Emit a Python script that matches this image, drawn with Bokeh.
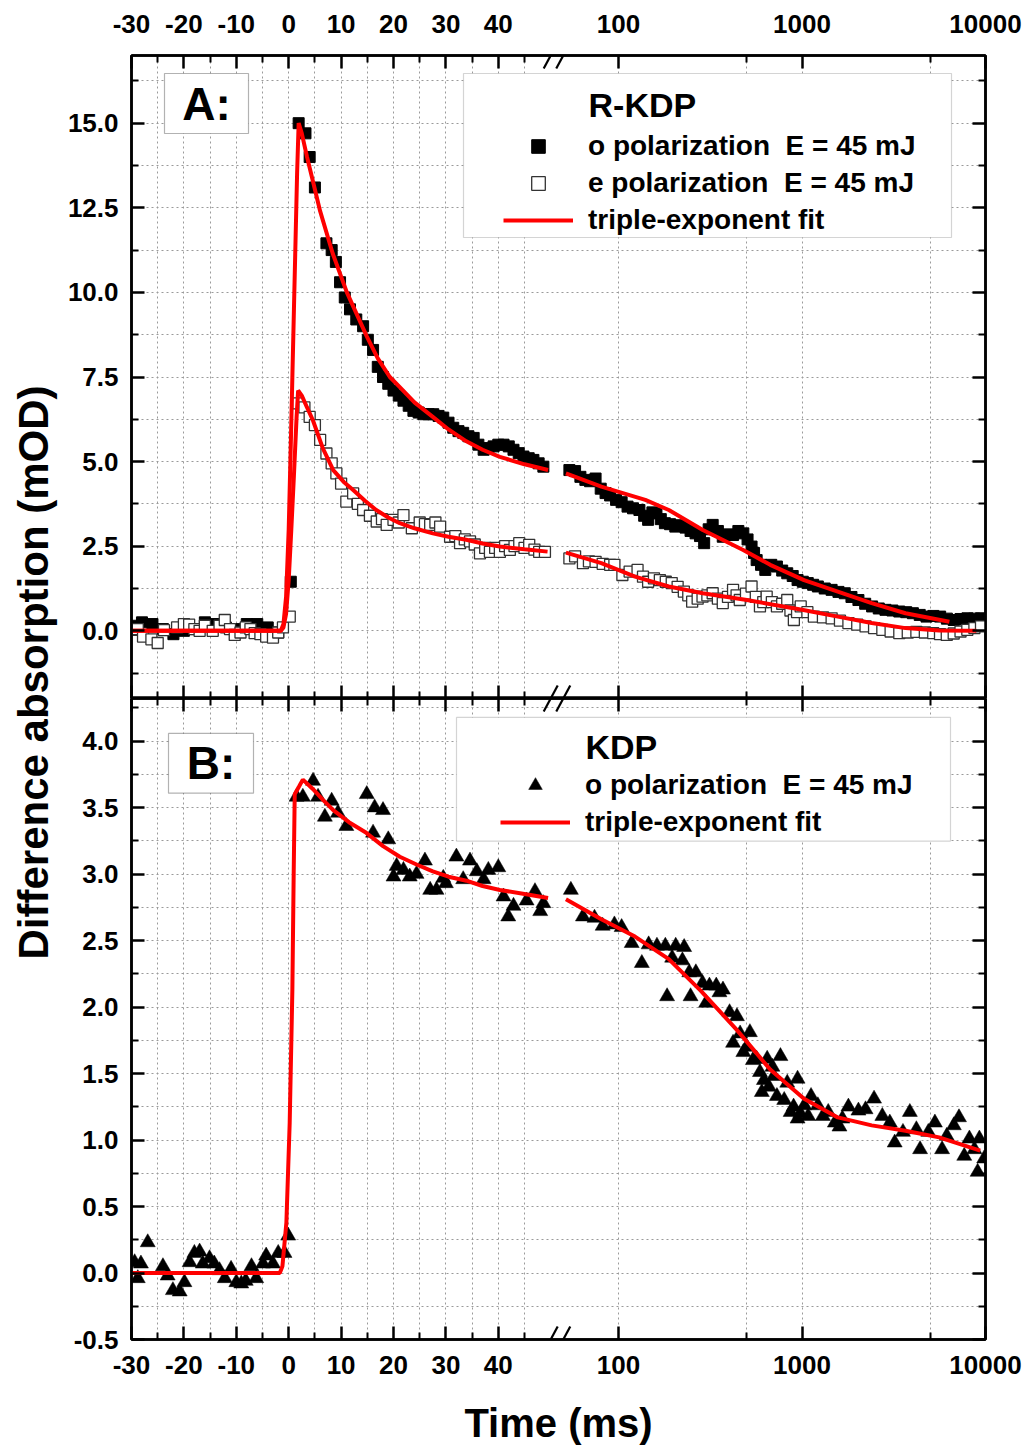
import math
from bokeh.plotting import figure
from bokeh.layouts import row, column
from bokeh.models import (Range1d, LogScale, LinearAxis, Grid, FixedTicker,
                          CustomJSTickFormatter, PrintfTickFormatter, Legend,
                          LegendItem, BoxAnnotation, Label, Arrow)
from bokeh.core.properties import value
from bokeh.embed import file_html
from bokeh.resources import INLINE

FONT = "Liberation Sans"

# ------------------------------------------------------------------ data
BREAK_MS = 50
x_lin_major = [-30, -20, -10, 0, 10, 20, 30, 40]
x_lin_minor = [-25, -15, -5, 5, 15, 25, 35, 45]
x_log_major = [100, 1000, 10000]
x_log_minor = [500, 5000]
yA_major = [0, 2.5, 5, 7.5, 10, 12.5, 15]
yA_minor = [-1.25, 1.25, 3.75, 6.25, 8.75, 11.25, 13.75, 16.25]
yB_major = [-0.5, 0, 0.5, 1, 1.5, 2, 2.5, 3, 3.5, 4]
yB_minor = [-0.25, 0.25, 0.75, 1.25, 1.75, 2.25, 2.75, 3.25, 3.75, 4.25]

# R-KDP, o polarization (filled squares)
rkdp_o_t = [-30, -28, -26, -24, -22, -20, -18, -16, -14, -12, -10, -8, -6, -4, -2, 0.4,
            1.9, 3.2, 4.0, 5.0, 7.2, 8.2, 9.0, 9.8, 10.7, 11.7,
            12.9, 14.2, 15.1, 16.1, 17.0, 18.0, 19.0, 20.0, 21.0, 21.9,
            22.9, 23.8, 24.8, 25.7, 26.7, 27.6, 28.6, 29.5, 30.5, 31.4,
            32.4, 33.3, 34.3, 35.3, 36.2, 37.2, 38.1, 39.1, 40.0, 41.0,
            42.0, 42.9, 43.9, 44.8, 45.8, 46.7, 47.7, 48.6,
            54, 58, 62, 66, 70, 75, 80, 85, 90, 97,
            104, 112, 120, 130, 138, 145, 153, 161, 170, 179,
            191, 204, 218, 232, 247, 263, 278, 293, 310, 326,
            348, 370, 395, 421, 450, 479, 505, 531, 548, 566,
            598, 631, 680, 730, 780, 831, 890, 946, 1010, 1075,
            1150, 1220, 1330, 1450, 1580, 1710, 1860, 2030, 2210, 2410,
            2620, 2850, 3110, 3390, 3700, 4020, 4380, 4770, 5200, 5660,
            6160, 6710, 7310, 7970, 8680, 9450]
rkdp_o_v = [0.15, 0.25, 0.2, 0.05, -0.1, 0.0, 0.05, 0.25, 0.2, 0.1, 0.05, 0.2, 0.2, 0.1, -0.05, 1.45,
            15.0, 14.7, 14.0, 13.1, 11.45, 11.25, 10.9, 10.3, 9.85, 9.5,
            9.2, 9.0, 8.6, 8.3, 7.8, 7.5, 7.3, 7.1, 6.95, 6.8,
            6.65, 6.5, 6.45, 6.4, 6.4, 6.4, 6.35, 6.3, 6.15, 6.0,
            5.9, 5.85, 5.75, 5.7, 5.5, 5.35, 5.4, 5.45, 5.5, 5.5,
            5.45, 5.35, 5.25, 5.15, 5.1, 5.05, 4.95, 4.85,
            4.75, 4.72, 4.55, 4.46, 4.42, 4.50, 4.20, 4.07, 4.00, 3.87,
            3.80, 3.67, 3.62, 3.57, 3.40, 3.28, 3.50, 3.47, 3.30, 3.18,
            3.15, 3.08, 3.12, 3.05, 2.95, 2.88, 2.80, 2.59, 3.00, 3.13,
            2.95, 2.78, 2.85, 2.83, 2.95, 2.88, 2.70, 2.49, 2.30, 2.09,
            1.95, 1.80, 1.95, 1.90, 1.78, 1.70, 1.62, 1.50, 1.45, 1.41,
            1.36, 1.31, 1.25, 1.21, 1.15, 1.11, 1.00, 0.91, 0.80, 0.72,
            0.66, 0.62, 0.60, 0.57, 0.55, 0.52, 0.47, 0.42, 0.44, 0.42,
            0.36, 0.32, 0.35, 0.37, 0.36, 0.37]

# R-KDP, e polarization (open squares)
rkdp_e_t = [-29.7, -28.8, -27.8, -26.2, -25.0, -23.8, -21.3, -20.0, -19.0, -18.0,
            -17.0, -16.0, -14.5, -13.2, -12.2, -11.2, -10.3, -9.2, -8.2, -7.3,
            -6.5, -5.4, -4.3, -3.0, -2.0, -1.1, 0.2,
            1.8, 3.0, 4.0, 5.0, 6.0, 7.2, 8.2, 9.1, 10.0, 11.0,
            12.3, 13.2, 14.2, 15.5, 16.8, 17.8, 18.7, 20.0, 21.0, 21.9,
            23.5, 25.0, 26.0, 27.0, 28.0, 28.9, 30.8, 31.8, 32.7, 33.6,
            34.6, 35.5, 36.5, 37.5, 38.4, 39.4, 40.3, 41.3, 42.2, 43.1,
            44.0, 45.0, 45.9, 46.9, 47.8, 48.9,
            54, 58, 64, 69, 75, 82, 90, 95, 105, 115,
            127, 136, 145, 156, 168, 181, 195, 210, 227, 240,
            252, 270, 287, 305, 326, 348, 370, 395, 421, 440,
            458, 495, 531, 560, 590, 615, 642, 685, 730, 780,
            831, 865, 903, 940, 984, 1070, 1160, 1300, 1450, 1610,
            1790, 2000, 2220, 2470, 2740, 3040, 3390, 3770, 4200, 4670,
            5190, 5650, 6150, 6710, 7310, 7960, 8700, 9450]
rkdp_e_v = [0.03, 0.05, -0.17, -0.25, -0.36, 0.02, 0.1, 0.2, 0.18, 0.05,
            0.0, 0.15, 0.0, 0.15, 0.32, 0.05, -0.12, -0.05, 0.1, 0.05,
            -0.07, -0.1, -0.17, -0.2, -0.05, 0.1, 0.42,
            6.72, 6.6, 6.32, 6.08, 5.64, 5.24, 4.95, 4.65, 4.35, 3.82,
            4.06, 3.75, 3.57, 3.4, 3.23, 3.3, 3.13, 3.28, 3.2, 3.42,
            3.03, 3.2, 3.15, 3.13, 3.2, 3.08, 2.78, 2.8, 2.59, 2.7,
            2.64, 2.55, 2.29, 2.45, 2.33, 2.45, 2.33, 2.5, 2.39, 2.5,
            2.59, 2.45, 2.54, 2.4, 2.33, 2.33,
            2.14, 2.20, 2.00, 2.05, 2.04, 1.98, 1.95, 1.95, 1.65, 1.75,
            1.80, 1.60, 1.45, 1.55, 1.50, 1.45, 1.41, 1.30, 1.16, 1.05,
            0.86, 0.95, 1.01, 1.05, 1.11, 0.95, 0.82, 1.00, 1.21, 1.05,
            0.91, 1.10, 1.31, 1.00, 0.72, 0.85, 1.01, 0.85, 0.72, 0.80,
            0.91, 0.60, 0.32, 0.55, 0.72, 0.55, 0.42, 0.40, 0.37, 0.30,
            0.23, 0.18, 0.13, 0.08, 0.03, -0.02, -0.07, -0.05, -0.03, -0.05,
            -0.07, -0.10, -0.12, -0.08, -0.02, 0.03, 0.08, 0.13]

# KDP, o polarization (triangles)
kdp_o_t = [-29.4, -28.8, -28.2, -26.9, -24.0, -23.1, -22.1, -20.8, -19.9, -18.9,
           -18.0, -17.0, -16.4, -15.1, -14.2, -13.2, -12.2, -11.0, -10.0, -9.05,
           -8.2, -7.1, -6.2, -4.9, -4.3, -3.0, -2.0, -0.8, -0.1,
           1.5, 2.7, 4.65, 5.6, 6.9, 8.2, 9.4, 11.0, 14.9, 16.1,
           16.4, 18.0, 19.0, 20.0, 20.6, 21.9, 23.1, 24.4, 26.0, 27.0,
           28.2, 29.5, 30.0, 32.0, 33.3, 34.6, 35.9, 37.2, 38.1, 40.0,
           41.0, 41.9, 42.9, 45.4, 47.0, 48.0, 48.6,
           55, 64, 74, 82, 95, 104, 118, 134, 146, 162,
           180, 184, 196, 205, 223, 228, 243, 247, 264, 287,
           300, 313, 341, 355, 371, 403, 421, 442, 460, 479,
           500, 520, 540, 566, 590, 604, 620, 646, 660, 690,
           702, 730, 763, 800, 831, 867, 900, 946, 946, 980,
           1030, 1080, 1120, 1220, 1300, 1390, 1510, 1600, 1660, 1790,
           2030, 2220, 2470, 2740, 3010, 3200, 3550, 3870, 4200, 4400,
           4880, 5300, 5800, 6150, 6720, 7170, 7660, 8170, 8700, 9060,
           9260, 9830]
kdp_o_v = [0.08, -0.04, 0.07, 0.23, 0.05, -0.02, -0.13, -0.14, -0.07, 0.08,
           0.15, 0.16, 0.07, 0.11, 0.07, 0.02, -0.04, 0.03, -0.07, -0.08,
           -0.06, 0.05, -0.04, 0.07, 0.13, 0.07, 0.15, 0.15, 0.28,
           3.58, 3.58, 3.70, 3.58, 3.43, 3.55, 3.46, 3.36, 3.60, 3.31,
           3.50, 3.48, 3.26, 2.98, 3.06, 3.03, 2.98, 3.00, 3.10, 2.88,
           2.88, 2.97, 2.93, 3.13, 2.96, 3.10, 3.02, 2.96, 3.03, 3.05,
           2.83, 2.68, 2.76, 2.80, 2.87, 2.72, 2.78,
           2.88, 2.68, 2.67, 2.61, 2.62, 2.60, 2.48, 2.33, 2.47, 2.46,
           2.46, 2.08, 2.37, 2.46, 2.35, 2.45, 2.26, 2.08, 2.26, 2.18,
           2.03, 2.16, 2.16, 2.11, 2.13, 1.96, 1.73, 1.93, 1.80, 1.66,
           1.70, 1.81, 1.60, 1.61, 1.51, 1.36, 1.45, 1.61, 1.40, 1.55,
           1.48, 1.33, 1.63, 1.30, 1.43, 1.21, 1.25, 1.46, 1.16, 1.20,
           1.26, 1.18, 1.33, 1.26, 1.18, 1.21, 1.13, 1.10, 1.16, 1.25,
           1.22, 1.23, 1.31, 1.18, 1.13, 0.98, 1.06, 1.21, 1.08, 0.93,
           1.06, 1.13, 0.93, 1.03, 1.11, 1.17, 0.88, 1.01, 0.93, 0.76,
           1.01, 0.86]

# triple-exponent fit curves
fit_rkdp_o_t = [-30, -1.5, -1.0, -0.5, 0.0, 0.4, 0.7, 1.0, 1.3, 1.6,
                1.9, 2.5, 3.5, 4.6, 6.0, 8.4, 11.1, 13.0, 14.9, 17.0,
                19.3, 21.2, 24.0, 27.5, 30.5, 33.9, 37.0, 40.3, 45.0, 49.5,
                51.7, 80.6, 140, 188, 288, 478, 671, 1026, 1567, 2397, 3664, 6358]
fit_rkdp_o_v = [0, 0, 0.2, 1.0, 3.0, 5.5, 7.5, 9.5, 11.5, 13.5,
                15.0, 14.7, 14.0, 13.3, 12.4, 11.15, 10.0, 9.35, 8.7, 8.05,
                7.5, 7.2, 6.75, 6.32, 5.95, 5.6, 5.35, 5.14, 4.92, 4.75,
                4.65, 4.26, 3.87, 3.57, 2.98, 2.39, 1.95, 1.50, 1.16, 0.82, 0.52, 0.27]
fit_rkdp_e_t = [-30, -1.5, -1.0, -0.5, 0.0, 0.5, 1.0, 1.5, 1.8, 2.5,
                3.5, 4.6, 6.5, 8.5, 10.5, 12.3, 14.5, 16.7, 19.0, 21.2,
                24.0, 27.5, 30.5, 33.9, 37.0, 40.3, 45.0, 49.4,
                51.7, 80.6, 123, 188, 288, 501, 1000, 1567, 2397, 3664, 5590, 8913]
fit_rkdp_e_v = [0, 0, 0.1, 0.5, 1.5, 3.0, 4.6, 6.3, 7.1, 6.95,
                6.6, 6.23, 5.4, 4.75, 4.4, 4.16, 3.85, 3.57, 3.35, 3.18,
                3.03, 2.88, 2.78, 2.69, 2.58, 2.49, 2.41, 2.34,
                2.31, 2.0, 1.60, 1.31, 1.11, 0.91, 0.62, 0.42, 0.23, 0.08, 0.01, 0.0]
fit_kdp_t = [-30, -1.7, -1.2, -0.44, 0.19, 0.7, 0.95, 1.15, 2.0, 2.7,
             4.6, 6.5, 8.5, 11.5, 14.8, 18.0, 21.2, 24.5, 27.5, 30.5,
             33.9, 37.0, 40.3, 45.0, 49.5,
             51.7, 80.6, 123, 188, 282, 440, 671, 1026, 1567, 2397, 3664, 5590, 9357]
fit_kdp_v = [0, 0, 0.05, 0.38, 1.13, 2.13, 3.0, 3.6, 3.66, 3.71,
             3.64, 3.56, 3.48, 3.39, 3.31, 3.21, 3.13, 3.07, 3.02, 2.98,
             2.95, 2.91, 2.88, 2.85, 2.82,
             2.81, 2.66, 2.53, 2.36, 2.12, 1.83, 1.53, 1.31, 1.17, 1.11, 1.07, 1.02, 0.92]

# ------------------------------------------------------------------ geometry
PAGE = 0
TITLE_W = 60
FIG_W = 1029 - PAGE - TITLE_W
H_A, H_B = 698, 749
FR_L, FR_R = 131, 985
FR_TOP, FR_MID, FR_BOT = 55, 698, 1341
LIN_START, LIN_PX = -30.0, 5.24          # ms, px per ms
LOG_END, LOG_PX = 10000.0, 183.5         # ms, px per decade
LIN_END = LIN_START + (FR_R - FR_L) / LIN_PX
LOG_START = LOG_END / 10 ** ((FR_R - FR_L) / LOG_PX)
Y_A = (-2.0, 17.0)
Y_B = (-0.5, 4.32)
L0, L1 = math.log10(LOG_START), math.log10(LOG_END)


def lin_pos(t):
    return min(LIN_END, LIN_START + (math.log10(t) - L0) / (L1 - L0) * (LIN_END - LIN_START))


def px_x(px):
    return LIN_START + (px - FR_L) / LIN_PX


def py_A(py):
    return Y_A[1] - (py - FR_TOP) / (FR_MID - FR_TOP) * (Y_A[1] - Y_A[0])


def py_B(py):
    return Y_B[1] - (py - FR_MID) / (FR_BOT - FR_MID) * (Y_B[1] - Y_B[0])


def split(ts, vs):
    lin = [(t, v) for t, v in zip(ts, vs) if t <= BREAK_MS]
    log = [(t, v) for t, v in zip(ts, vs) if t > BREAK_MS]
    return ([a for a, _ in lin], [b for _, b in lin]), ([a for a, _ in log], [b for _, b in log])


x_ticker = FixedTicker(ticks=x_lin_major + [lin_pos(t) for t in x_log_major],
                       minor_ticks=x_lin_minor + [lin_pos(t) for t in x_log_minor])
x_formatter = CustomJSTickFormatter(
    args=dict(x0=LIN_START, x1=LIN_END, l0=L0, l1=L1, brk=BREAK_MS),
    code="""
    if (tick <= brk) { return tick.toFixed(0); }
    const t = Math.pow(10, l0 + (tick - x0) / (x1 - x0) * (l1 - l0));
    return String(Math.round(t));
""")
y_formatter = PrintfTickFormatter(format="%.1f")

GRID = dict(grid_line_color="#9a9a9a", grid_line_dash="2 3", grid_line_width=1,
            minor_grid_line_color="#9a9a9a", minor_grid_line_dash="2 3", minor_grid_line_width=1)


def style_axis(ax, labelled, standoff=13):
    ax.axis_line_width = 2.5
    ax.axis_line_color = "black"
    ax.major_tick_in = 13
    ax.major_tick_out = 0
    ax.major_tick_line_width = 2.5
    ax.minor_tick_in = 7
    ax.minor_tick_out = 0
    ax.minor_tick_line_width = 2
    if labelled:
        ax.major_label_text_font = FONT
        ax.major_label_text_font_style = "bold"
        ax.major_label_text_font_size = "26px"
        ax.major_label_text_color = "black"
        ax.major_label_standoff = standoff
    else:
        ax.major_label_text_color = None
        ax.major_label_text_font_size = "0px"
        ax.major_label_standoff = 0
    return ax


def make_panel(height, yr, ymaj, ymin, top_border, bottom_border, top_labels, bottom_labels):
    p = figure(width=FIG_W, height=height,
               x_range=Range1d(LIN_START, LIN_END), y_range=Range1d(*yr),
               x_axis_type=None, y_axis_type=None,
               toolbar_location=None, output_backend="svg",
               min_border_left=FR_L - PAGE - TITLE_W,
               min_border_right=PAGE + TITLE_W + FIG_W - FR_R,
               min_border_top=top_border, min_border_bottom=bottom_border,
               background_fill_color="white", border_fill_color="white",
               outline_line_color="black", outline_line_width=2.5)
    p.extra_x_ranges = {"log": Range1d(LOG_START, LOG_END)}
    p.extra_x_scales = {"log": LogScale()}
    y_ticker = FixedTicker(ticks=ymaj, minor_ticks=ymin)
    p.add_layout(Grid(dimension=0, ticker=x_ticker, **GRID))
    p.add_layout(Grid(dimension=1, ticker=y_ticker, **GRID))
    p.add_layout(style_axis(LinearAxis(ticker=y_ticker, formatter=y_formatter), True, 13), "left")
    p.add_layout(style_axis(LinearAxis(ticker=y_ticker, formatter=y_formatter), False), "right")
    top = style_axis(LinearAxis(ticker=x_ticker, formatter=x_formatter), top_labels, 23)
    bot = style_axis(LinearAxis(ticker=x_ticker, formatter=x_formatter), bottom_labels, 16)
    p.add_layout(top, "above")
    p.add_layout(bot, "below")
    return p, bot


def add_breaks(p, yr):
    """'//' axis-break marks on both horizontal edges of a panel, at the break time."""
    dx = 7 / LIN_PX
    f = 10 ** (7 / LOG_PX)
    dy = 13 * (yr[1] - yr[0]) / (FR_MID - FR_TOP)
    for ye in yr:
        p.add_layout(Arrow(end=None, x_start=BREAK_MS - dx, y_start=ye - dy,
                           x_end=BREAK_MS + dx, y_end=ye + dy,
                           line_width=2.2, line_color="black"))
        p.add_layout(Arrow(end=None, x_start=BREAK_MS / f, y_start=ye - dy,
                           x_end=BREAK_MS * f, y_end=ye + dy,
                           line_width=2.2, line_color="black", x_range_name="log"))


def draw(p, ts, vs, kind):
    (lt, lv), (gt, gv) = split(ts, vs)
    rs = []
    for xs, ys, rng in ((lt, lv, "default"), (gt, gv, "log")):
        if kind == "filled":
            r = p.scatter(xs, ys, marker="square", size=11, fill_color="black",
                          line_color="black", x_range_name=rng)
        elif kind == "open":
            r = p.scatter(xs, ys, marker="square", size=11, fill_color="white",
                          line_color="#333333", line_width=1.3, x_range_name=rng)
        elif kind == "tri":
            r = p.scatter(xs, ys, marker="triangle", size=15, fill_color="black",
                          line_color="black", line_width=0.5, x_range_name=rng)
        else:
            r = p.line(xs, ys, line_color="#ff0000", line_width=4, x_range_name=rng)
        rs.append(r)
    return rs[0]


LEG = dict(border_line_color=None, background_fill_alpha=0, label_text_font=FONT,
           label_text_font_style="bold", label_text_font_size="28px", label_text_color="black",
           glyph_width=70, glyph_height=34, label_standoff=15, spacing=3, padding=0, margin=0)

# ------------------------------------------------------------------ panel A
pA, _ = make_panel(H_A, Y_A, yA_major, yA_minor, FR_TOP - PAGE, 0, True, False)
rA_o = draw(pA, rkdp_o_t, rkdp_o_v, "filled")
rA_e = draw(pA, rkdp_e_t, rkdp_e_v, "open")
rA_fo = draw(pA, fit_rkdp_o_t, fit_rkdp_o_v, "fit")
draw(pA, fit_rkdp_e_t, fit_rkdp_e_v, "fit")
add_breaks(pA, Y_A)

pA.add_layout(BoxAnnotation(left=px_x(463), right=px_x(951), top=py_A(73), bottom=py_A(237),
                            fill_color="white", fill_alpha=1, line_color="#707070", line_width=1.2))
pA.add_layout(Label(x=px_x(588), y=py_A(104), text="R-KDP", text_font=FONT, text_font_style="bold",
                    text_font_size="34px", text_baseline="middle", text_align="left", text_color="black"))
pA.add_layout(Legend(items=[LegendItem(label="o polarization  E = 45 mJ", renderers=[rA_o]),
                            LegendItem(label="e polarization  E = 45 mJ", renderers=[rA_e]),
                            LegendItem(label="triple-exponent fit", renderers=[rA_fo])],
                     location=(503 - FR_L, FR_MID - 237), **LEG))
pA.add_layout(BoxAnnotation(left=px_x(164), right=px_x(248), top=py_A(73), bottom=py_A(133),
                            fill_color="white", fill_alpha=1, line_color="black", line_width=1.2))
pA.add_layout(Label(x=px_x(206), y=py_A(103), text="A:", text_font=FONT, text_font_style="bold",
                    text_font_size="46px", text_baseline="middle", text_align="center", text_color="black"))

# ------------------------------------------------------------------ panel B
pB, axB = make_panel(H_B, Y_B, yB_major, yB_minor, 0, PAGE + H_A + H_B - FR_BOT, False, True)
axB.axis_label = "Time (ms)"
axB.axis_label_text_font = FONT
axB.axis_label_text_font_style = "bold"
axB.axis_label_text_font_size = "40px"
axB.axis_label_text_color = "black"
axB.axis_label_standoff = 24
rB_o = draw(pB, kdp_o_t, kdp_o_v, "tri")
rB_f = draw(pB, fit_kdp_t, fit_kdp_v, "fit")
add_breaks(pB, Y_B)

pB.add_layout(BoxAnnotation(left=px_x(456), right=px_x(950), top=py_B(717), bottom=py_B(841),
                            fill_color="white", fill_alpha=1, line_color="#707070", line_width=1.2))
pB.add_layout(Label(x=px_x(585), y=py_B(747), text="KDP", text_font=FONT, text_font_style="bold",
                    text_font_size="34px", text_baseline="middle", text_align="left", text_color="black"))
pB.add_layout(Legend(items=[LegendItem(label="o polarization  E = 45 mJ", renderers=[rB_o]),
                            LegendItem(label="triple-exponent fit", renderers=[rB_f])],
                     location=(500 - FR_L, FR_BOT - 841), **LEG))
pB.add_layout(BoxAnnotation(left=px_x(168), right=px_x(253), top=py_B(733), bottom=py_B(793),
                            fill_color="white", fill_alpha=1, line_color="black", line_width=1.2))
pB.add_layout(Label(x=px_x(210.5), y=py_B(763), text="B:", text_font=FONT, text_font_style="bold",
                    text_font_size="46px", text_baseline="middle", text_align="center", text_color="black"))

# ------------------------------------------------------------------ y title column
TOTAL_H = H_A + H_B
pT = figure(width=TITLE_W, height=TOTAL_H, x_range=Range1d(0, TITLE_W), y_range=Range1d(0, TOTAL_H),
            x_axis_type=None, y_axis_type=None, toolbar_location=None, output_backend="svg",
            min_border=0, outline_line_color=None, background_fill_color="white",
            border_fill_color="white")
pT.text(x=[33 - PAGE], y=[TOTAL_H - (672 - PAGE)], text=["Difference absorption (mOD)"],
        angle=math.pi / 2, text_align="center", text_baseline="middle",
        text_font=value(FONT), text_font_style="bold", text_font_size="42px", text_color="black")

layout = row(pT, column(pA, pB))
open("out.html", "w").write(file_html(layout, INLINE))
